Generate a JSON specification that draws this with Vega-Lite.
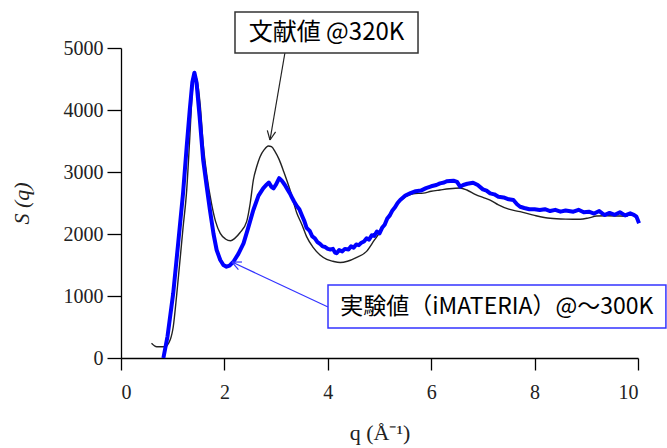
{
  "$schema": "https://vega.github.io/schema/vega-lite/v6.json",
  "autosize": "none",
  "width": 517,
  "height": 310,
  "padding": {"left": 121, "top": 48, "right": 29, "bottom": 90},
  "background": "white",
  "config": {"view": {"stroke": null}},
  "datasets": {
    "lit": [
      {"q":0.59,"S":237},{"q":0.69,"S":182},{"q":0.85,"S":182},{"q":0.95,"S":290},{"q":1.01,"S":500},
      {"q":1.08,"S":1043},{"q":1.2,"S":2100},{"q":1.27,"S":2700},{"q":1.33,"S":3550},{"q":1.38,"S":4300},
      {"q":1.42,"S":4560},{"q":1.47,"S":4480},{"q":1.53,"S":4100},{"q":1.59,"S":3450},{"q":1.66,"S":2950},
      {"q":1.75,"S":2495},{"q":1.83,"S":2200},{"q":1.92,"S":2011},{"q":2.02,"S":1920},{"q":2.12,"S":1890},
      {"q":2.2,"S":1930},{"q":2.3,"S":2020},{"q":2.43,"S":2200},{"q":2.5,"S":2500},{"q":2.56,"S":2871},
      {"q":2.63,"S":3100},{"q":2.69,"S":3247},{"q":2.77,"S":3360},{"q":2.85,"S":3420},{"q":2.91,"S":3408},
      {"q":2.98,"S":3330},{"q":3.06,"S":3200},{"q":3.15,"S":3000},{"q":3.27,"S":2710},{"q":3.4,"S":2340},
      {"q":3.5,"S":2150},{"q":3.59,"S":1957},{"q":3.72,"S":1780},{"q":3.85,"S":1660},{"q":3.98,"S":1590},
      {"q":4.1,"S":1560},{"q":4.24,"S":1540},{"q":4.38,"S":1560},{"q":4.55,"S":1620},{"q":4.75,"S":1720},
      {"q":4.9,"S":1900},{"q":5.05,"S":2080},{"q":5.2,"S":2300},{"q":5.35,"S":2490},{"q":5.5,"S":2600},
      {"q":5.65,"S":2650},{"q":5.85,"S":2660},{"q":6.0,"S":2690},{"q":6.17,"S":2710},{"q":6.35,"S":2730},
      {"q":6.56,"S":2742},{"q":6.69,"S":2710},{"q":6.85,"S":2640},{"q":7.0,"S":2590},{"q":7.14,"S":2548},
      {"q":7.3,"S":2470},{"q":7.5,"S":2400},{"q":7.72,"S":2360},{"q":8.0,"S":2300},{"q":8.3,"S":2253},
      {"q":8.6,"S":2240},{"q":8.88,"S":2237},{"q":9.05,"S":2260},{"q":9.2,"S":2290},{"q":9.4,"S":2295},
      {"q":9.65,"S":2290},{"q":9.8,"S":2285}
    ],
    "exp": [
      {"q":0.82,"S":0},{"q":0.9,"S":350},{"q":1.01,"S":1043},{"q":1.1,"S":1800},{"q":1.2,"S":2656},
      {"q":1.27,"S":3400},{"q":1.33,"S":4000},{"q":1.38,"S":4450},{"q":1.42,"S":4600},{"q":1.46,"S":4450},
      {"q":1.52,"S":3900},{"q":1.59,"S":3190},{"q":1.66,"S":2750},{"q":1.72,"S":2387},{"q":1.79,"S":2000},
      {"q":1.85,"S":1742},{"q":1.92,"S":1580},{"q":1.98,"S":1500},{"q":2.04,"S":1473},{"q":2.1,"S":1490},
      {"q":2.18,"S":1560},{"q":2.27,"S":1680},{"q":2.37,"S":1850},{"q":2.46,"S":2100},{"q":2.56,"S":2387},
      {"q":2.66,"S":2620},{"q":2.75,"S":2737},{"q":2.82,"S":2800},{"q":2.86,"S":2830},{"q":2.91,"S":2760},
      {"q":2.95,"S":2737},{"q":3.0,"S":2800},{"q":3.06,"S":2900},{"q":3.11,"S":2860},{"q":3.17,"S":2790},
      {"q":3.22,"S":2720},{"q":3.27,"S":2650},{"q":3.3,"S":2600},{"q":3.35,"S":2520},{"q":3.4,"S":2450},
      {"q":3.45,"S":2400},{"q":3.5,"S":2300},{"q":3.55,"S":2200},{"q":3.59,"S":2100},{"q":3.65,"S":2050},
      {"q":3.7,"S":1960},{"q":3.75,"S":1930},{"q":3.8,"S":1870},{"q":3.85,"S":1840},{"q":3.9,"S":1800},
      {"q":3.95,"S":1790},{"q":4.0,"S":1760},{"q":4.05,"S":1750},{"q":4.1,"S":1760},{"q":4.14,"S":1700},
      {"q":4.17,"S":1690},{"q":4.22,"S":1740},{"q":4.28,"S":1720},{"q":4.33,"S":1760},{"q":4.4,"S":1750},
      {"q":4.45,"S":1800},{"q":4.5,"S":1780},{"q":4.55,"S":1830},{"q":4.6,"S":1820},{"q":4.65,"S":1860},
      {"q":4.7,"S":1880},{"q":4.75,"S":1930},{"q":4.8,"S":1910},{"q":4.85,"S":1980},{"q":4.9,"S":1970},
      {"q":4.95,"S":2040},{"q":5.0,"S":2010},{"q":5.05,"S":2100},{"q":5.1,"S":2150},{"q":5.15,"S":2250},
      {"q":5.2,"S":2300},{"q":5.25,"S":2380},{"q":5.3,"S":2430},{"q":5.35,"S":2500},{"q":5.4,"S":2548},
      {"q":5.5,"S":2620},{"q":5.6,"S":2660},{"q":5.7,"S":2690},{"q":5.8,"S":2700},{"q":5.9,"S":2740},
      {"q":6.0,"S":2770},{"q":6.1,"S":2790},{"q":6.17,"S":2817},{"q":6.25,"S":2830},{"q":6.3,"S":2850},
      {"q":6.43,"S":2860},{"q":6.5,"S":2840},{"q":6.56,"S":2763},{"q":6.62,"S":2790},{"q":6.7,"S":2810},
      {"q":6.81,"S":2828},{"q":6.9,"S":2790},{"q":7.0,"S":2720},{"q":7.07,"S":2700},{"q":7.14,"S":2656},
      {"q":7.22,"S":2640},{"q":7.3,"S":2600},{"q":7.4,"S":2590},{"q":7.5,"S":2560},{"q":7.59,"S":2548},
      {"q":7.66,"S":2480},{"q":7.72,"S":2440},{"q":7.8,"S":2420},{"q":7.9,"S":2400},{"q":8.0,"S":2400},
      {"q":8.1,"S":2387},{"q":8.2,"S":2400},{"q":8.3,"S":2370},{"q":8.4,"S":2390},{"q":8.5,"S":2360},
      {"q":8.6,"S":2380},{"q":8.75,"S":2360},{"q":8.85,"S":2390},{"q":8.95,"S":2350},{"q":9.05,"S":2360},
      {"q":9.15,"S":2330},{"q":9.25,"S":2370},{"q":9.35,"S":2306},{"q":9.45,"S":2340},{"q":9.55,"S":2310},
      {"q":9.65,"S":2350},{"q":9.75,"S":2300},{"q":9.85,"S":2333},{"q":9.92,"S":2310},{"q":9.97,"S":2280},
      {"q":10.02,"S":2172}
    ],
    "arrowLit": [
      {"x1":3.17,"y1":4919,"x2":2.882,"y2":3516},
      {"x1":2.99,"y1":3648,"x2":2.882,"y2":3516},
      {"x1":2.83,"y1":3672,"x2":2.882,"y2":3516}
    ],
    "arrowExp": [
      {"x1":4.004,"y1":823,"x2":2.147,"y2":1548},
      {"x1":2.271,"y1":1424,"x2":2.147,"y2":1548},
      {"x1":2.34,"y1":1548,"x2":2.147,"y2":1548}
    ],
    "boxLit": [{"x1":2.205,"x2":5.745,"y1":4919,"y2":5581,"label":"文献値 @320K","xc":3.975,"yc":5250}],
    "boxExp": [{"x1":4.004,"x2":10.54,"y1":484,"y2":1177,"label":"実験値（iMATERIA）@～300K","xc":7.27,"yc":830}]
  },
  "layer": [
    {
      "data": {"name": "lit"},
      "mark": {"type": "line", "color": "#222222", "strokeWidth": 1.4, "interpolate": "monotone"},
      "encoding": {
        "x": {"field": "q", "type": "quantitative",
          "scale": {"domain": [0, 10], "nice": false, "zero": false},
          "axis": {"values": [0,2,4,6,8,10], "grid": false, "tickSize": 12, "tickColor": "black", "domainColor": "black",
            "domainWidth": 1.3, "tickWidth": 1.3, "format": "d",
            "labelFont": "Liberation Serif", "labelFontSize": 20, "labelColor": "#222", "labelPadding": 12,
            "title": "q (Å⁻¹)", "titleFont": "Liberation Serif", "titleFontSize": 22, "titleFontWeight": "normal",
            "titleColor": "#222", "titlePadding": 20}},
        "y": {"field": "S", "type": "quantitative",
          "scale": {"domain": [0, 5000], "nice": false},
          "axis": {"values": [0,1000,2000,3000,4000,5000], "grid": false, "tickSize": 14, "tickColor": "black", "domainColor": "black",
            "domainWidth": 1.3, "tickWidth": 1.3, "format": "d",
            "labelFont": "Liberation Serif", "labelFontSize": 20, "labelColor": "#222", "labelPadding": 4,
            "title": "S (q)", "titleFont": "Liberation Serif", "titleFontSize": 22, "titleFontWeight": "normal",
            "titleFontStyle": "italic", "titleColor": "#222", "titlePadding": 30}}
      }
    },
    {
      "data": {"name": "exp"},
      "mark": {"type": "line", "color": "#0000ff", "strokeWidth": 4, "strokeJoin": "round"},
      "encoding": {
        "x": {"field": "q", "type": "quantitative"},
        "y": {"field": "S", "type": "quantitative"}
      }
    },
    {
      "data": {"name": "arrowLit"},
      "mark": {"type": "rule", "color": "#222222", "strokeWidth": 1.2},
      "encoding": {
        "x": {"field": "x1", "type": "quantitative"},
        "y": {"field": "y1", "type": "quantitative"},
        "x2": {"field": "x2"},
        "y2": {"field": "y2"}
      }
    },
    {
      "data": {"name": "arrowExp"},
      "mark": {"type": "rule", "color": "#3333ff", "strokeWidth": 1.2},
      "encoding": {
        "x": {"field": "x1", "type": "quantitative"},
        "y": {"field": "y1", "type": "quantitative"},
        "x2": {"field": "x2"},
        "y2": {"field": "y2"}
      }
    },
    {
      "data": {"name": "boxLit"},
      "mark": {"type": "rect", "fill": "white", "stroke": "#333333", "strokeWidth": 1.5},
      "encoding": {
        "x": {"field": "x1", "type": "quantitative"},
        "x2": {"field": "x2"},
        "y": {"field": "y1", "type": "quantitative"},
        "y2": {"field": "y2"}
      }
    },
    {
      "data": {"name": "boxLit"},
      "mark": {"type": "text", "font": "Noto Sans CJK JP", "fontSize": 24, "fontWeight": "normal", "color": "#000", "align": "center", "baseline": "middle"},
      "encoding": {
        "x": {"field": "xc", "type": "quantitative"},
        "y": {"field": "yc", "type": "quantitative"},
        "text": {"field": "label"}
      }
    },
    {
      "data": {"name": "boxExp"},
      "mark": {"type": "rect", "fill": "white", "stroke": "#3333ff", "strokeWidth": 1.5},
      "encoding": {
        "x": {"field": "x1", "type": "quantitative"},
        "x2": {"field": "x2"},
        "y": {"field": "y1", "type": "quantitative"},
        "y2": {"field": "y2"}
      }
    },
    {
      "data": {"name": "boxExp"},
      "mark": {"type": "text", "font": "Noto Sans CJK JP", "fontSize": 23, "fontWeight": "normal", "color": "#000", "align": "center", "baseline": "middle"},
      "encoding": {
        "x": {"field": "xc", "type": "quantitative"},
        "y": {"field": "yc", "type": "quantitative"},
        "text": {"field": "label"}
      }
    }
  ]
}
